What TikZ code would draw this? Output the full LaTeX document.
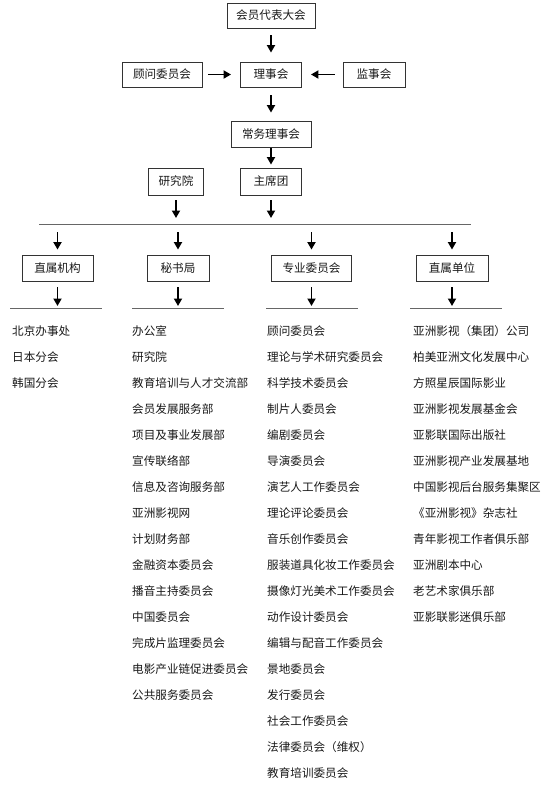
\documentclass[tikz,border=0pt]{standalone}
\usepackage{fontspec}
\setmainfont{Noto Sans CJK SC}
\usetikzlibrary{arrows.meta}

\begin{document}
\begin{tikzpicture}[x=1pt, y=-1pt, every node/.style={font=\fontsize{11.6}{13}\selectfont, text=black!90},
  orgbox/.style={rectangle, draw=black!80, line width=0.9pt, minimum height=26pt, inner sep=0pt, fill=white},
  arr/.style={-{Triangle[length=7.5pt, width=8pt]}, line width=1.8pt, black},
  bus/.style={draw=black!60, line width=1pt},
  listitem/.style={anchor=west, inner sep=0pt},
]
\fill[white] (0,0) rectangle (558,796);
\useasboundingbox (0,0) rectangle (558,796);
% upper levels
\node[orgbox, minimum width=88pt, minimum height=25pt] (dbdh) at (271, 15.5) {会员代表大会};
\node[orgbox, minimum width=80pt, minimum height=25pt] (gwwy) at (162, 74.5) {顾问委员会};
\node[orgbox, minimum width=61pt, minimum height=25pt] (lsh) at (271, 74.5) {理事会};
\node[orgbox, minimum width=62pt, minimum height=25pt] (jsh) at (374, 74.5) {监事会};
\node[orgbox, minimum width=80pt] (cwls) at (271, 134) {常务理事会};
\node[orgbox, minimum width=55pt, minimum height=27pt] (yjy) at (176, 181.5) {研究院};
\node[orgbox, minimum width=61pt, minimum height=27pt] (zxt) at (271, 181.5) {主席团};
\draw[arr, shorten <=7pt, shorten >=9pt] (dbdh) -- (lsh);
\draw[arr, shorten <=6pt, shorten >=9pt] (gwwy) -- (lsh);
\draw[arr, shorten <=8pt, shorten >=9pt] (jsh) -- (lsh);
\draw[arr, shorten <=8pt, shorten >=8pt] (lsh) -- (cwls);
\draw[arr, shorten <=1pt, shorten >=3pt] (cwls) -- (zxt);
% bus line
\coordinate (busL) at (39, 224); \coordinate (busR) at (471, 224);
\draw[bus] (busL) -- (busR);
\draw[arr, shorten <=5pt, shorten >=6pt] (yjy) -- (yjy |- busL);
\draw[arr, shorten <=5pt, shorten >=6pt] (zxt) -- (zxt |- busL);
% second level
\node[orgbox, minimum width=71pt] (zsjg) at (57.5, 268) {直属机构};
\node[orgbox, minimum width=62pt] (msj) at (178, 268) {秘书局};
\node[orgbox, minimum width=80pt] (zywy) at (311.5, 268) {专业委员会};
\node[orgbox, minimum width=72pt] (zsdw) at (452, 268) {直属单位};
\foreach \b in {zsjg, msj, zywy, zsdw} \draw[arr, shorten <=8pt, shorten >=5pt] (\b |- busL) -- (\b);
% underlines
\draw[bus] (10, 308) coordinate (u1a) -- (102, 308); \draw[bus] (132, 308) coordinate (u2a) -- (224, 308);
\draw[bus] (266, 308) coordinate (u3a) -- (358, 308); \draw[bus] (410, 308) coordinate (u4a) -- (502, 308);
\draw[arr, shorten <=6pt, shorten >=2pt] (zsjg) -- (zsjg |- u1a); \draw[arr, shorten <=6pt, shorten >=2pt] (msj) -- (msj |- u2a);
\draw[arr, shorten <=6pt, shorten >=2pt] (zywy) -- (zywy |- u3a); \draw[arr, shorten <=6pt, shorten >=2pt] (zsdw) -- (zsdw |- u4a);
% lists
\foreach \t [count=\i] in {北京办事处, 日本分会, 韩国分会}
  \node[listitem] (jg\i) at (12, {331+26*(\i-1)}) {\t};
\foreach \t [count=\i] in {办公室, 研究院, 教育培训与人才交流部, 会员发展服务部, 项目及事业发展部, 宣传联络部, 信息及咨询服务部, 亚洲影视网, 计划财务部, 金融资本委员会, 播音主持委员会, 中国委员会, 完成片监理委员会, 电影产业链促进委员会, 公共服务委员会}
  \node[listitem] (ms\i) at (132, {331+26*(\i-1)}) {\t};
\foreach \t [count=\i] in {顾问委员会, 理论与学术研究委员会, 科学技术委员会, 制片人委员会, 编剧委员会, 导演委员会, 演艺人工作委员会, 理论评论委员会, 音乐创作委员会, 服装道具化妆工作委员会, 摄像灯光美术工作委员会, 动作设计委员会, 编辑与配音工作委员会, 景地委员会, 发行委员会, 社会工作委员会, 法律委员会（维权）, 教育培训委员会}
  \node[listitem] (zy\i) at (267, {331+26*(\i-1)}) {\t};
\foreach \t [count=\i] in {亚洲影视（集团）公司, 柏美亚洲文化发展中心, 方照星辰国际影业, 亚洲影视发展基金会, 亚影联国际出版社, 亚洲影视产业发展基地, 中国影视后台服务集聚区, 《亚洲影视》杂志社, 青年影视工作者俱乐部, 亚洲剧本中心, 老艺术家俱乐部, 亚影联影迷俱乐部}
  \node[listitem] (dw\i) at (413, {331+26*(\i-1)}) {\t};
\end{tikzpicture}
\end{document}
